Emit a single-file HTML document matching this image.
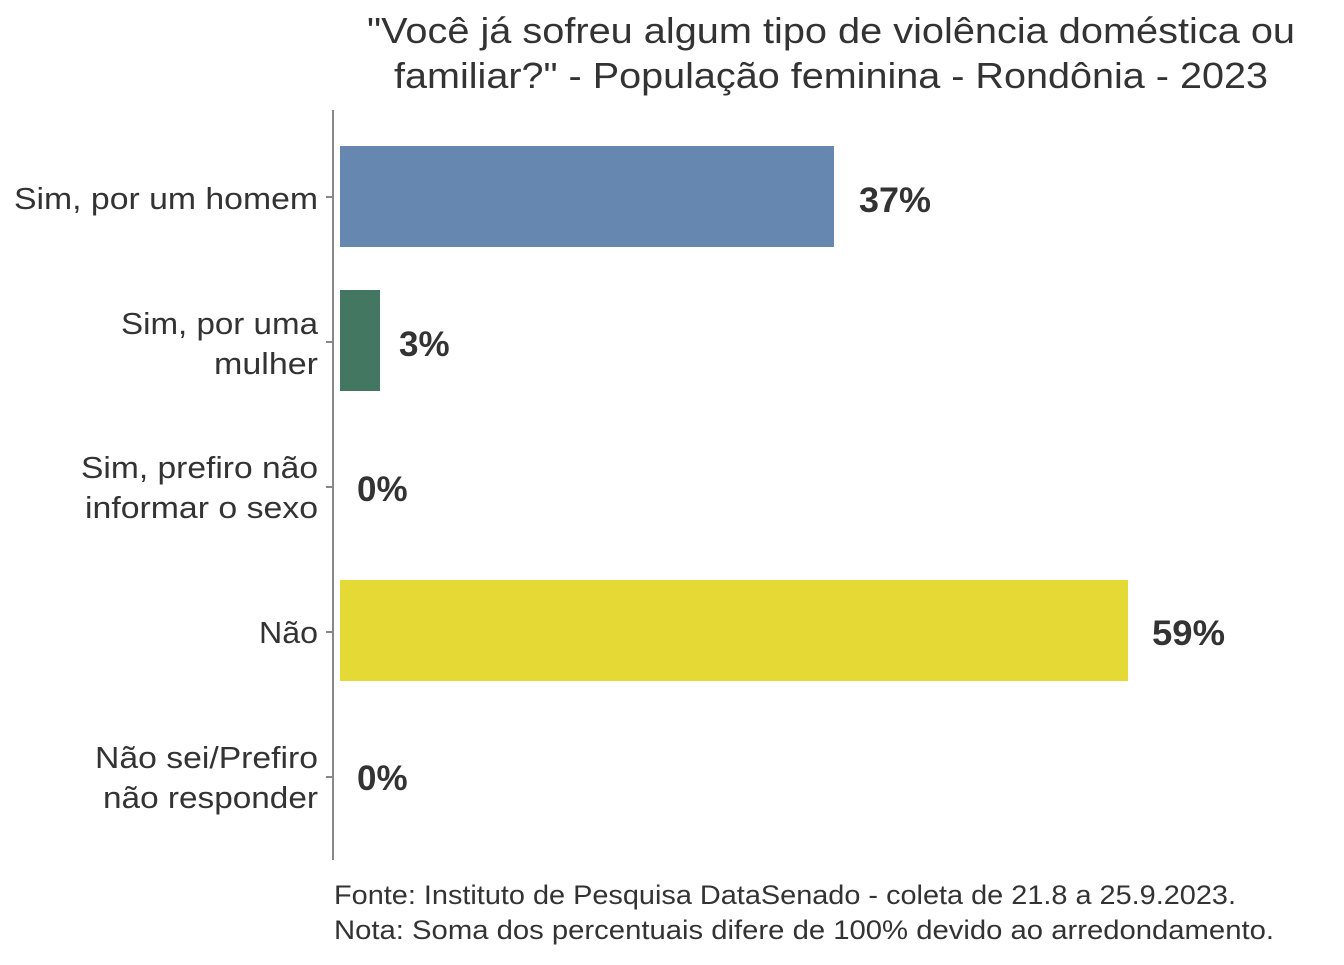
<!DOCTYPE html>
<html><head><meta charset="utf-8"><style>
html,body{margin:0;padding:0;background:#fff;}
svg text{font-family:"Liberation Sans","DejaVu Sans",sans-serif;fill:#333;}
</style></head><body>
<svg width="1344" height="960" viewBox="0 0 1344 960" xmlns="http://www.w3.org/2000/svg">
<rect width="1344" height="960" fill="#fff"/>
<g font-size="36" lengthAdjust="spacingAndGlyphs">
<text x="367" y="43" textLength="928" lengthAdjust="spacingAndGlyphs">"Você já sofreu algum tipo de violência doméstica ou</text>
<text x="394" y="88" textLength="874" lengthAdjust="spacingAndGlyphs">familiar?" - População feminina - Rondônia - 2023</text>
</g>
<line x1="333" y1="110" x2="333" y2="860" stroke="#888" stroke-width="2"/>
<g stroke="#888" stroke-width="2">
<line x1="326" y1="197" x2="333" y2="197"/>
<line x1="326" y1="342" x2="333" y2="342"/>
<line x1="326" y1="487" x2="333" y2="487"/>
<line x1="326" y1="632" x2="333" y2="632"/>
<line x1="326" y1="777" x2="333" y2="777"/>
</g>
<rect x="340" y="146" width="494" height="101" fill="#6688b0"/>
<rect x="340" y="290" width="40" height="101" fill="#447761"/>
<rect x="340" y="580" width="788" height="101" fill="#e5d935"/>
<g font-size="31">
<text x="14" y="209" textLength="304" lengthAdjust="spacingAndGlyphs">Sim, por um homem</text>
<text x="121" y="334" textLength="197" lengthAdjust="spacingAndGlyphs">Sim, por uma</text>
<text x="214" y="374" textLength="104" lengthAdjust="spacingAndGlyphs">mulher</text>
<text x="81" y="478" textLength="237" lengthAdjust="spacingAndGlyphs">Sim, prefiro não</text>
<text x="85" y="518" textLength="233" lengthAdjust="spacingAndGlyphs">informar o sexo</text>
<text x="259" y="643" textLength="59" lengthAdjust="spacingAndGlyphs">Não</text>
<text x="95" y="768" textLength="223" lengthAdjust="spacingAndGlyphs">Não sei/Prefiro</text>
<text x="103" y="808" textLength="215" lengthAdjust="spacingAndGlyphs">não responder</text>
</g>
<g font-size="35" font-weight="bold">
<text x="859" y="212" textLength="72" lengthAdjust="spacingAndGlyphs">37%</text>
<text x="399" y="356">3%</text>
<text x="357" y="501">0%</text>
<text x="1152" y="645" textLength="73" lengthAdjust="spacingAndGlyphs">59%</text>
<text x="357" y="790">0%</text>
</g>
<g font-size="27">
<text x="334" y="904" textLength="902" lengthAdjust="spacingAndGlyphs">Fonte: Instituto de Pesquisa DataSenado - coleta de 21.8 a 25.9.2023.</text>
<text x="334" y="939" textLength="940" lengthAdjust="spacingAndGlyphs">Nota: Soma dos percentuais difere de 100% devido ao arredondamento.</text>
</g>
</svg>
</body></html>
